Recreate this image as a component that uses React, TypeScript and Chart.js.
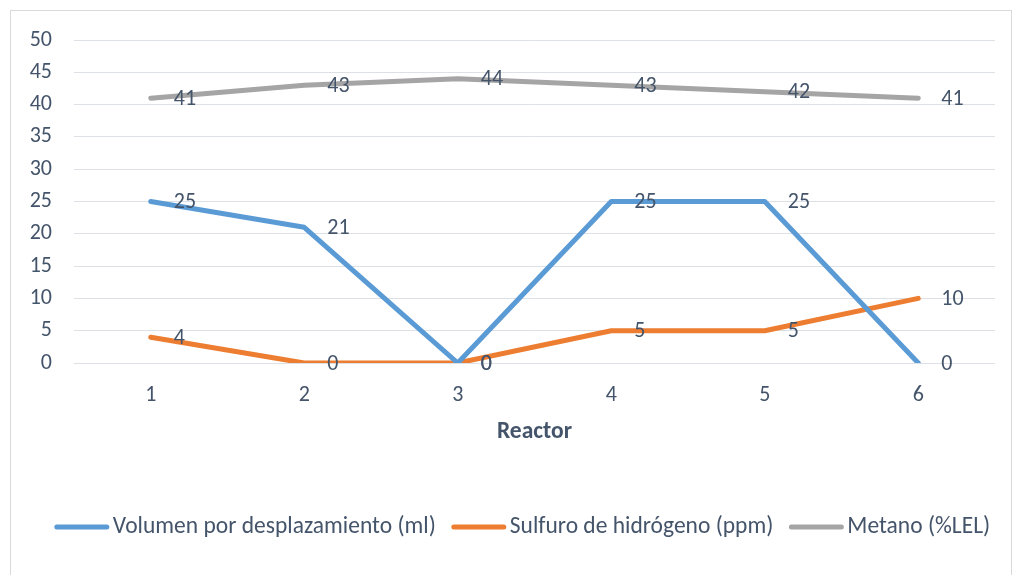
import React, { useEffect, useRef } from "react";
import { Chart, registerables } from "chart.js";

Chart.register(...registerables);

const categories = ["1", "2", "3", "4", "5", "6"];
const volumen = [25, 21, 0, 25, 25, 0];
const sulfuro = [4, 0, 0, 5, 5, 10];
const metano = [41, 43, 44, 43, 42, 41];
const seriesNames = ["Volumen por desplazamiento (ml)", "Sulfuro de hidrógeno (ppm)", "Metano (%LEL)"];
const seriesColors = ["#5B9BD5", "#ED7D31", "#A5A5A5"];

const FONT = "Carlito, Calibri, Lato, sans-serif";
const TEXT = "#44546A";
const NUM_SIZE = 22;
const TXT_SIZE = 23.5;

const framePlugin = {
  id: "frame",
  beforeDraw(chart: any) {
    const ctx = chart.ctx;
    ctx.save();
    ctx.fillStyle = "#ffffff";
    ctx.fillRect(0, 0, chart.width, chart.height);
    ctx.strokeStyle = "#D9D9D9";
    ctx.lineWidth = 1;
    ctx.strokeRect(10.5, 10.5, chart.width - 12, chart.height + 20);
    ctx.restore();
  },
};

const labelsPlugin = {
  id: "pointLabels",
  afterDatasetsDraw(chart: any) {
    const ctx = chart.ctx;
    ctx.save();
    ctx.font = `${NUM_SIZE}px ${FONT}`;
    ctx.fillStyle = TEXT;
    ctx.textAlign = "left";
    ctx.textBaseline = "middle";
    chart.data.datasets.forEach((ds: any, i: number) => {
      const meta = chart.getDatasetMeta(i);
      meta.data.forEach((pt: any, j: number) => {
        ctx.fillText(String(ds.data[j]), pt.x + 23, pt.y + 1);
      });
    });
    ctx.restore();
  },
};

const legendPlugin = {
  id: "customLegend",
  afterDraw(chart: any) {
    const ctx = chart.ctx;
    ctx.save();
    ctx.font = `${TXT_SIZE}px ${FONT}`;
    ctx.textBaseline = "middle";
    ctx.textAlign = "left";
    const sample = 56;
    const gap = 3;
    const between = 15;
    const widths = seriesNames.map((n) => sample + gap + ctx.measureText(n).width);
    const total = widths.reduce((a, b) => a + b, 0) + between * (widths.length - 1);
    let x = 522 - total / 2;
    const y = 527;
    seriesNames.forEach((n, i) => {
      ctx.strokeStyle = seriesColors[i];
      ctx.lineWidth = 5;
      ctx.lineCap = "round";
      ctx.beginPath();
      ctx.moveTo(x + 3, y);
      ctx.lineTo(x + sample - 3, y);
      ctx.stroke();
      ctx.fillStyle = TEXT;
      ctx.fillText(n, x + sample + gap, y);
      x += widths[i] + between;
    });
    ctx.restore();
  },
};

export default function App() {
  const ref = useRef<HTMLCanvasElement>(null);
  useEffect(() => {
    document.body.style.margin = "0";
    const mk = (i: number, data: number[]) => ({
      label: seriesNames[i],
      data,
      borderColor: seriesColors[i],
      backgroundColor: seriesColors[i],
      borderWidth: 5,
      borderCapStyle: "round" as const,
      borderJoinStyle: "round" as const,
      pointRadius: 0,
      tension: 0,
    });
    const chart = new Chart(ref.current!, {
      type: "line",
      data: {
        labels: categories,
        datasets: [mk(0, volumen), mk(1, sulfuro), mk(2, metano)],
      },
      options: {
        animation: false,
        responsive: false,
        layout: { padding: { top: 40, right: 18, left: 0, bottom: 0 } },
        plugins: { legend: { display: false }, tooltip: { enabled: false } },
        scales: {
          x: {
            offset: true,
            grid: { display: false, drawTicks: false },
            border: { display: false },
            ticks: { color: TEXT, font: { family: FONT, size: NUM_SIZE }, padding: 19 },
            title: {
              display: true,
              text: "Reactor",
              color: TEXT,
              font: { family: FONT, size: TXT_SIZE, weight: "bold" },
              padding: { top: 0, bottom: 129 },
            },
            afterFit(scale: any) {
              scale.height = 212;
            },
          },
          y: {
            min: 0,
            max: 50,
            ticks: { stepSize: 5, color: TEXT, font: { family: FONT, size: NUM_SIZE }, padding: 22 },
            grid: { color: "#DDE1E6", lineWidth: 1, drawTicks: false },
            border: { display: false },
            afterFit(scale: any) {
              scale.width = 74;
            },
          },
        },
      },
      plugins: [framePlugin, labelsPlugin, legendPlugin],
    });
    return () => chart.destroy();
  }, []);
  return (
    <div style={{ width: 1013, height: 575 }}>
      <canvas ref={ref} width={1013} height={575} />
    </div>
  );
}
